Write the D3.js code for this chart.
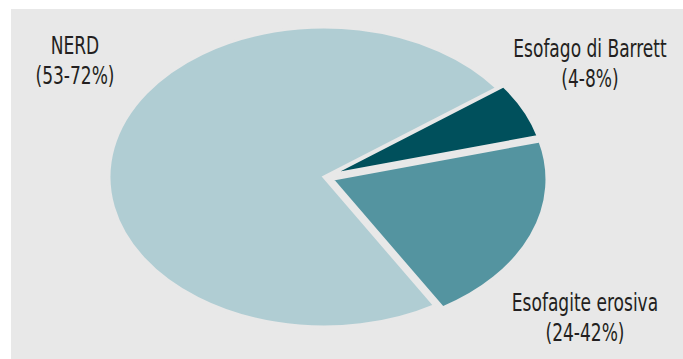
<!DOCTYPE html>
<html>
<head>
<meta charset="utf-8">
<script src="https://cdn.jsdelivr.net/npm/d3@7"></script>
<style>
  html, body { margin: 0; padding: 0; background: #ffffff; }
  svg { display: block; }
  text { font-family: "DejaVu Sans Condensed", "Liberation Sans", sans-serif; font-stretch: condensed; fill: #231f20; }
</style>
</head>
<body>
<svg id="chart" width="683" height="359"></svg>
<script>
// Slice order runs clockwise starting from the upper-right wedge
const categories = ["Esofago di Barrett", "Esofagite erosiva", "NERD"];
const values = [6, 20.5, 73.5];
const ranges = ["(4-8%)", "(24-42%)", "(53-72%)"];
const colors = ["#00505c", "#5494a0", "#b0cdd3"];
const explode = [5, 6, 0];

const W = 683, H = 359;
const cx = 324, cy = 177;      // pie centre
const rx = 215, ry = 150;      // elliptical radii
const startDeg = 53.6;

const svg = d3.select("#chart");

// grey panel behind the pie
svg.append("rect")
  .attr("x", 11).attr("y", 9)
  .attr("width", W - 11).attr("height", H - 9)
  .attr("fill", "#e8e8e8");

const pie = d3.pie()
  .sort(null)
  .value(d => d)
  .startAngle(startDeg * Math.PI / 180)
  .endAngle(startDeg * Math.PI / 180 + 2 * Math.PI);

const arcs = pie(values);
const arc = d3.arc().innerRadius(0).outerRadius(ry);

const g = svg.append("g")
  .attr("transform", `translate(${cx},${cy}) scale(${rx / ry},1)`);

g.selectAll("path")
  .data(arcs)
  .join("path")
  .attr("d", arc)
  .attr("fill", (d, i) => colors[i])
  .attr("stroke", "#e8e8e8")
  .attr("stroke-width", 3)
  .attr("stroke-linejoin", "miter")
  .attr("vector-effect", "non-scaling-stroke")
  .attr("transform", (d, i) => {
    const a = (d.startAngle + d.endAngle) / 2;
    return `translate(${Math.sin(a) * explode[i]},${-Math.cos(a) * explode[i]})`;
  });

// labels: name on the first line, range on the second (narrow lettering)
const labelPos = [
  { x: 590, y: 57 },
  { x: 585, y: 311 },
  { x: 75, y: 54 }
];
const squeeze = 0.79;

const labels = svg.append("g");
categories.forEach((c, i) => {
  const p = labelPos[i];
  const t = labels.append("text")
    .attr("transform", `translate(${p.x},${p.y}) scale(${squeeze},1)`)
    .attr("text-anchor", "middle")
    .style("font-size", "24px");
  t.append("tspan").attr("x", 0).text(c);
  t.append("tspan").attr("x", 0).attr("dy", 30).text(ranges[i]);
});
</script>
</body>
</html>
